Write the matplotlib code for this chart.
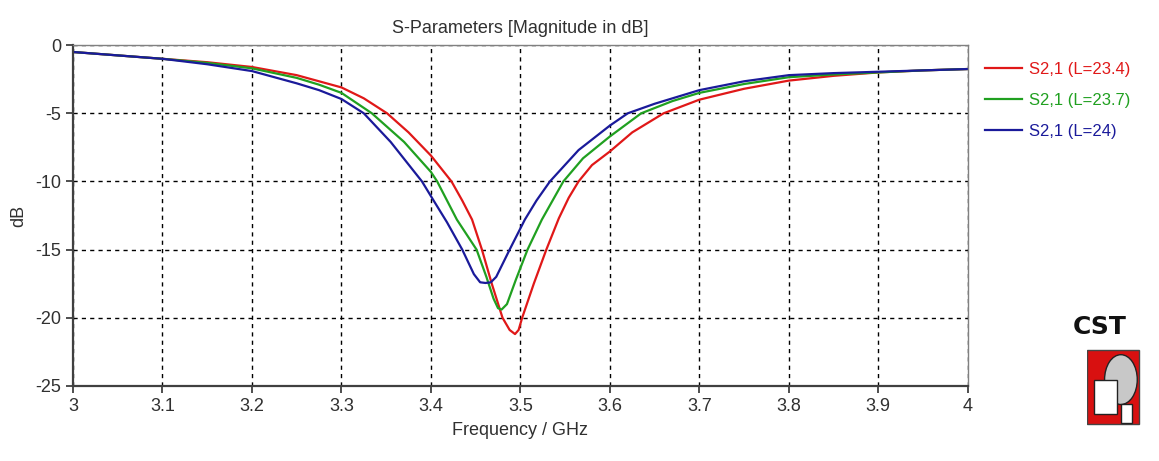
import matplotlib.pyplot as plt
from matplotlib.patches import Rectangle, Circle

plt.rcParams["font.family"] = ["Liberation Sans", "DejaVu Sans"]
plt.rcParams["axes.unicode_minus"] = False

# S2,1 (L=23.4)
f_red = [3.00, 3.05, 3.10, 3.15, 3.20, 3.25, 3.30, 3.325, 3.351, 3.375, 3.40, 3.423,
         3.435, 3.446, 3.457, 3.468, 3.480, 3.488, 3.494, 3.498, 3.502, 3.515, 3.529,
         3.543, 3.554, 3.565, 3.58, 3.60, 3.625, 3.66, 3.70, 3.75, 3.80, 3.85, 3.90,
         3.95, 4.00]
db_red = [-0.5, -0.75, -1.0, -1.25, -1.6, -2.2, -3.1, -3.9, -5.0, -6.4, -8.1, -10.0,
          -11.4, -12.8, -15.0, -17.5, -20.0, -20.9, -21.2, -20.9, -20.0, -17.5, -15.0,
          -12.7, -11.2, -10.0, -8.8, -7.8, -6.4, -5.0, -4.0, -3.2, -2.6, -2.25, -2.0,
          -1.85, -1.75]

# S2,1 (L=23.7)
f_green = [3.00, 3.05, 3.10, 3.15, 3.20, 3.25, 3.275, 3.30, 3.334, 3.37, 3.40, 3.407,
           3.418, 3.429, 3.451, 3.462, 3.470, 3.475, 3.479, 3.485, 3.495, 3.508, 3.524,
           3.536, 3.548, 3.57, 3.60, 3.635, 3.67, 3.70, 3.75, 3.80, 3.85, 3.90, 3.95,
           4.00]
db_green = [-0.5, -0.75, -1.0, -1.3, -1.7, -2.4, -2.9, -3.5, -5.0, -7.1, -9.3, -10.0,
            -11.4, -12.8, -15.0, -17.0, -18.6, -19.3, -19.4, -19.0, -17.2, -15.0, -12.8,
            -11.4, -10.0, -8.3, -6.7, -5.0, -4.1, -3.5, -2.85, -2.35, -2.15, -2.0, -1.85,
            -1.75]

# S2,1 (L=24)
f_blue = [3.00, 3.05, 3.10, 3.15, 3.20, 3.25, 3.275, 3.30, 3.325, 3.355, 3.390, 3.403,
          3.418, 3.435, 3.448, 3.455, 3.461, 3.467, 3.473, 3.488, 3.505, 3.518, 3.533,
          3.565, 3.60, 3.62, 3.65, 3.70, 3.75, 3.80, 3.85, 3.90, 3.95, 4.00]
db_blue = [-0.5, -0.75, -1.0, -1.4, -1.9, -2.8, -3.3, -3.95, -5.0, -7.1, -10.0, -11.4,
           -13.0, -15.0, -16.8, -17.4, -17.45, -17.4, -17.0, -15.0, -12.8, -11.4, -10.0,
           -7.7, -5.9, -5.0, -4.3, -3.3, -2.65, -2.2, -2.05, -1.95, -1.85, -1.75]

labels = ["S2,1 (L=23.4)", "S2,1 (L=23.7)", "S2,1 (L=24)"]
xticks = [3, 3.1, 3.2, 3.3, 3.4, 3.5, 3.6, 3.7, 3.8, 3.9, 4]
xticklabels = ["3", "3.1", "3.2", "3.3", "3.4", "3.5", "3.6", "3.7", "3.8", "3.9", "4"]
yticks = [0, -5, -10, -15, -20, -25]

fig = plt.figure(figsize=(11.59, 4.61), dpi=100)
ax = fig.add_axes([0.063, 0.163, 0.772, 0.739])

ax.plot(f_red, db_red, color="#e01818", lw=1.6, label=labels[0])
ax.plot(f_green, db_green, color="#20a020", lw=1.6, label=labels[1])
ax.plot(f_blue, db_blue, color="#1a1a9a", lw=1.6, label=labels[2])

ax.set_xlim(3, 4)
ax.set_ylim(-25, 0)
ax.set_xticks(xticks)
ax.set_xticklabels(xticklabels)
ax.set_yticks(yticks)
ax.grid(True, color="black", linestyle=(0, (3, 3)), linewidth=1)
ax.tick_params(labelsize=13, colors="#303030", length=5, width=1.2)

for s in ["left", "bottom"]:
    ax.spines[s].set_color("#404040")
    ax.spines[s].set_linewidth(1.6)
for s in ["top", "right"]:
    ax.spines[s].set_color("#808080")
    ax.spines[s].set_linewidth(1.0)

ax.set_title("S-Parameters [Magnitude in dB]", fontsize=13, color="#303030", pad=9)
ax.set_xlabel("Frequency / GHz", fontsize=13, color="#303030", labelpad=5)
ax.set_ylabel("dB", fontsize=13, color="#303030", labelpad=6)

leg = ax.legend(loc="upper left", bbox_to_anchor=(1.012, 0.97), frameon=False,
                fontsize=12, handlelength=2.2, handletextpad=0.45,
                labelcolor="linecolor", borderaxespad=0.0, labelspacing=0.95)

# CST logo
fig.text(0.949, 0.29, "CST", fontsize=18, fontweight="bold", ha="center",
         va="center", family="DejaVu Sans", color="#111111")
logo = fig.add_axes([0.938, 0.065, 0.047, 0.18])
logo.set_xlim(0, 1)
logo.set_ylim(0, 1)
logo.axis("off")
logo.add_patch(Rectangle((0.0, 0.08), 0.96, 0.9, facecolor="#d81010", edgecolor="#444444", lw=1))
logo.add_patch(Circle((0.62, 0.62), 0.3, facecolor="#c8c8c8", edgecolor="#222222", lw=1))
logo.add_patch(Rectangle((0.12, 0.2), 0.42, 0.42, facecolor="white", edgecolor="#222222", lw=1))
logo.add_patch(Rectangle((0.62, 0.1), 0.2, 0.22, facecolor="white", edgecolor="#222222", lw=1))

fig.savefig("out.png", dpi=100)
